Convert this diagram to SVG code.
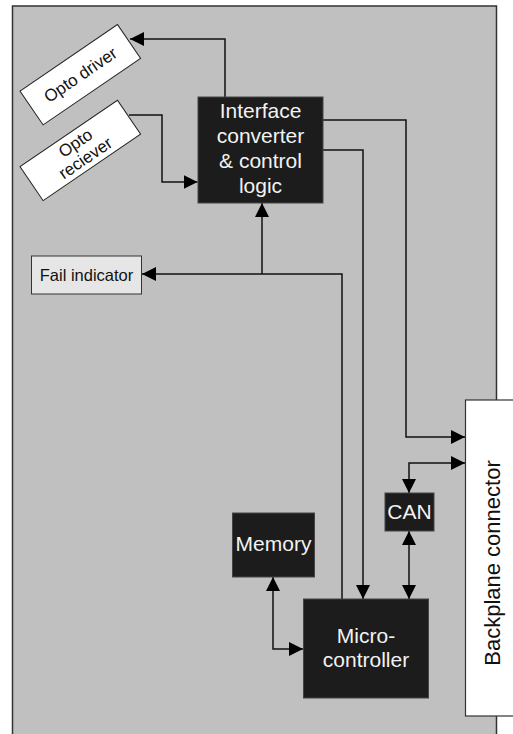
<svg xmlns="http://www.w3.org/2000/svg" width="513" height="734" viewBox="0 0 513 734">
<style>
.blk{fill:#1c1c1c;stroke:#444;stroke-width:1}
.wt{fill:#fff;stroke:#222;stroke-width:1}
.bt{font-family:"Liberation Sans",Arial,sans-serif;font-size:21px;fill:#f2f2f2;text-anchor:middle}
.st{font-family:"Liberation Sans",Arial,sans-serif;font-size:17px;fill:#111;text-anchor:middle}
.ln{fill:none;stroke:#111;stroke-width:1.5}
</style>
<defs>
<marker id="ah" markerUnits="userSpaceOnUse" markerWidth="15" markerHeight="15" refX="14" refY="7.5" orient="auto-start-reverse" viewBox="0 0 15 15">
<path d="M0,0.5 L14,7.5 L0,14.5 z" fill="#000"/>
</marker>
</defs>
<rect id="panel" x="12.5" y="6" width="484" height="740" fill="#c0c0c0" stroke="#333" stroke-width="1.5"/>
<g id="backplane">
<rect x="465.5" y="400" width="60" height="316" fill="#fff" stroke="#333" stroke-width="1.2"/>
<text class="bt" style="fill:#111;font-size:22px" transform="translate(500,563) rotate(-90)">Backplane connector</text>
</g>
<g id="connectors">
<path class="ln" d="M225,97 V39 H130" marker-end="url(#ah)"/>
<path class="ln" d="M129,115 H162 V182 H197.5" marker-end="url(#ah)"/>
<path class="ln" d="M323,120 H406 V437 H465" marker-end="url(#ah)"/>
<path class="ln" d="M323,150 H363 V599" marker-end="url(#ah)"/>
<path class="ln" d="M342,599 V274 H142" marker-end="url(#ah)"/>
<path class="ln" d="M262,274 V203" marker-end="url(#ah)"/>
<path class="ln" d="M409,493 V463 H465" marker-start="url(#ah)" marker-end="url(#ah)"/>
<path class="ln" d="M409,531 V599" marker-start="url(#ah)" marker-end="url(#ah)"/>
<path class="ln" d="M273,577 V649 H303" marker-start="url(#ah)" marker-end="url(#ah)"/>
</g>
<g id="opto-driver" transform="translate(80.3,74.7) rotate(-34.3)">
<rect class="wt" x="-59" y="-20.5" width="118" height="41"/>
<text class="st" x="0" y="6">Opto driver</text>
</g>
<g id="opto-receiver" transform="translate(80.3,150.4) rotate(-34.3)">
<rect class="wt" x="-59" y="-20.5" width="118" height="41"/>
<text class="st" x="0" y="-3">Opto</text>
<text class="st" x="0" y="15">reciever</text>
</g>
<g id="icc">
<rect class="blk" x="198" y="97" width="125" height="106"/>
<text class="bt" x="260.5" y="118">Interface</text>
<text class="bt" x="260.5" y="143">converter</text>
<text class="bt" x="260.5" y="168">&amp; control</text>
<text class="bt" x="260.5" y="193">logic</text>
</g>
<g id="fail">
<rect x="31.5" y="256" width="110" height="38" fill="#e6e6e6" stroke="#333" stroke-width="1"/>
<text class="st" x="86.5" y="280.5" style="font-size:16.5px">Fail indicator</text>
</g>
<g id="can">
<rect class="blk" x="385" y="493" width="49" height="38"/>
<text class="bt" x="409.5" y="519">CAN</text>
</g>
<g id="memory">
<rect class="blk" x="232.5" y="513" width="82" height="64"/>
<text class="bt" x="273.5" y="551">Memory</text>
</g>
<g id="micro">
<rect class="blk" x="303.5" y="599" width="125" height="99"/>
<text class="bt" x="366" y="643">Micro-</text>
<text class="bt" x="366" y="667">controller</text>
</g>
</svg>
